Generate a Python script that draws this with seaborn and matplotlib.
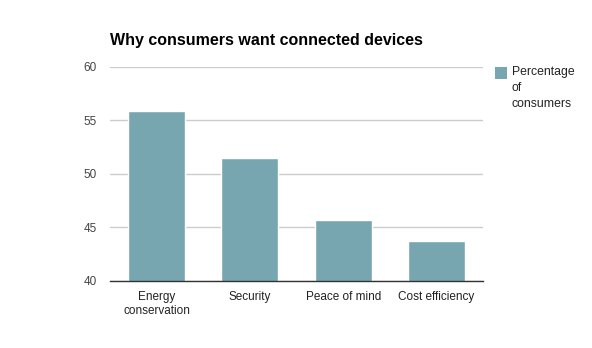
import matplotlib
matplotlib.use("Agg")
import matplotlib.pyplot as plt
import seaborn as sns
import pandas as pd

categories = ["Energy\nconservation", "Security", "Peace of mind", "Cost efficiency"]
values = [55.9, 51.5, 45.7, 43.7]
series_name = "Percentage\nof\nconsumers"
yticks = [40, 45, 50, 55, 60]

sns.set_theme(style="white")
plt.rcParams['font.family'] = ['Liberation Sans', 'DejaVu Sans']

df = pd.DataFrame({"cat": categories, "val": values})
color = "#77a6b0"

fig = plt.figure(figsize=(5.92, 3.48), dpi=100)
ax = fig.add_axes([110/592, 1-281/348, 373/592, 214/348])
sns.barplot(data=df, x="cat", y="val", color=color, width=0.61, ax=ax, saturation=1)
ax.set_ylim(40, 60)
ax.set_xlim(-0.5, 3.5)
ax.set_yticks(yticks)
ax.set_yticklabels([str(t) for t in yticks], fontsize=8.5, color="#444444")
ax.tick_params(axis='x', labelsize=8.5, colors="#222222", length=0, pad=7)
ax.tick_params(axis='y', length=0, pad=9.5)
ax.set_xlabel("")
ax.set_ylabel("")
ax.grid(axis='y', color="#cccccc", linewidth=1)
ax.set_axisbelow(True)
for s in ["top", "right", "left"]:
    ax.spines[s].set_visible(False)
ax.spines["bottom"].set_color("#333333")
ax.spines["bottom"].set_linewidth(1)

fig.text(110/592, 1-41/348, "Why consumers want connected devices", fontsize=11.5,
         fontweight="bold", color="#000000", va="center", ha="left")

# legend
from matplotlib.patches import Rectangle
fig.patches.append(Rectangle((495/592, 1-79/348), 12/592, 12/348, transform=fig.transFigure,
                             facecolor=color, edgecolor="none"))
fig.text(512/592, 1-66/348, series_name, fontsize=8.8, color="#222222", va="top", ha="left",
         linespacing=1.45)

fig.savefig("out.png", dpi=100)
